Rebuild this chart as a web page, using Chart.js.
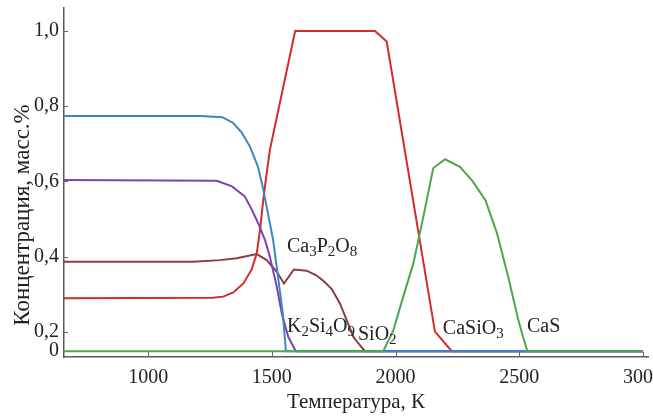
<!DOCTYPE html>
<html>
<head>
  <meta charset="utf-8">
  <title>Концентрация фаз</title>
  <script src="https://cdn.jsdelivr.net/npm/chart.js"></script>
  <style>
    body { margin: 0; background: #fff; }
    #wrap { width: 653px; height: 417px; }
  </style>
</head>
<body>
  <div id="wrap"><canvas id="phaseChart"></canvas></div>

  <script>
    // температура, K и концентрация, масс.% по каждой кривой
    const sio2T = [660, 1210, 1300, 1343, 1379, 1412, 1444, 1464, 1484, 1505, 1525, 1544, 1557, 3000];
    const sio2C = [0.774, 0.774, 0.771, 0.756, 0.729, 0.692, 0.639, 0.583, 0.516, 0.445, 0.346, 0.251, 0, 0];

    const k2si4o9T = [660, 1277, 1339, 1391, 1420, 1448, 1472, 1492, 1520, 1540, 1566, 1594, 1602, 3000];
    const k2si4o9C = [0.604, 0.602, 0.587, 0.560, 0.524, 0.484, 0.445, 0.400, 0.320, 0.250, 0.151, 0.013, 0, 0];

    const casio3T = [660, 1262, 1303, 1344, 1385, 1419, 1439, 1452, 1464, 1478, 1492, 1594, 1917, 1964, 2159, 2227, 3000];
    const casio3C = [0.290, 0.291, 0.294, 0.305, 0.329, 0.367, 0.409, 0.471, 0.543, 0.617, 0.684, 1.0, 1.0, 0.972, 0.201, 0, 0];

    const ca3p2o8T = [660, 1181, 1290, 1358, 1439, 1479, 1520, 1549, 1589, 1641, 1681, 1711, 1742, 1775, 1802, 1829, 1849, 1876, 3000];
    const ca3p2o8C = [0.387, 0.387, 0.391, 0.396, 0.407, 0.391, 0.360, 0.329, 0.366, 0.363, 0.350, 0.334, 0.314, 0.276, 0.232, 0.151, 0.083, 0, 0];

    const casT = [660, 1950, 1991, 2031, 2072, 2112, 2152, 2200, 2260, 2311, 2363, 2410, 2455, 2496, 2515, 2533, 3000];
    const casC = [0, 0, 0.205, 0.294, 0.383, 0.506, 0.635, 0.659, 0.639, 0.601, 0.550, 0.462, 0.347, 0.232, 0.148, 0, 0];

    const xTicks = [1000, 1500, 2000, 2500, 3000];
    const yTicks = [0, 0.2, 0.4, 0.6, 0.8, 1.0];

    // подписи кривых (цифры рисуются индексами)
    const curveLabels = [
      { text: 'Ca3P2O8', x: 1561, y: 0.431 },
      { text: 'K2Si4O9', x: 1561, y: 0.219 },
      { text: 'SiO2', x: 1848, y: 0.19 },
      { text: 'CaSiO3', x: 2191, y: 0.213 },
      { text: 'CaS', x: 2531, y: 0.219 }
    ];

    const serif = "'Liberation Serif', 'Times New Roman', serif";

    // ось Y с разрывом: участок 0..0,2 сжат внизу
    const BREAK_VAL = 0.2;
    const BREAK_FRAC = 25 / 349;
    class BrokenScale extends Chart.LinearScale {
      toDec(v) {
        if (v < BREAK_VAL) return (v - this.min) / (BREAK_VAL - this.min) * BREAK_FRAC;
        return BREAK_FRAC + (v - BREAK_VAL) / (this.max - BREAK_VAL) * (1 - BREAK_FRAC);
      }
      getPixelForValue(v) {
        if (v === null || v === undefined || isNaN(v)) return NaN;
        return this.getPixelForDecimal(this.toDec(v));
      }
      getValueForPixel(p) {
        const d = this.getDecimalForPixel(p);
        if (d < BREAK_FRAC) return this.min + d / BREAK_FRAC * (BREAK_VAL - this.min);
        return BREAK_VAL + (d - BREAK_FRAC) / (1 - BREAK_FRAC) * (this.max - BREAK_VAL);
      }
    }
    BrokenScale.id = 'broken';
    BrokenScale.defaults = Chart.LinearScale.defaults;
    Chart.register(BrokenScale);

    const toPoints = (xs, ys) => xs.map((x, i) => ({ x: x, y: ys[i] }));
    const line = (label, xs, ys, color) => ({
      label: label,
      data: toPoints(xs, ys),
      borderColor: color,
      borderWidth: 2,
      pointRadius: 0,
      showLine: true,
      tension: 0
    });

    // без запаса под крайние подписи — область графика задаётся вручную
    const noPad = s => { s.paddingLeft = s.paddingRight = s.paddingTop = s.paddingBottom = 0; };

    function drawFormula(ctx, text, x, y) {
      const base = y + 7;
      for (const ch of text) {
        const sub = /[0-9]/.test(ch);
        ctx.font = (sub ? '15px ' : '20px ') + serif;
        ctx.fillText(ch, x, sub ? base + 4 : base);
        x += ctx.measureText(ch).width;
      }
    }

    const decor = {
      id: 'decor',
      afterDraw(chart) {
        const ctx = chart.ctx;
        const xs = chart.scales.x, ys = chart.scales.y;
        const area = chart.chartArea;
        ctx.save();
        ctx.strokeStyle = '#666';
        ctx.lineWidth = 1;
        yTicks.slice(1).forEach(v => {
          const py = Math.round(ys.getPixelForValue(v)) + 0.5;
          ctx.beginPath(); ctx.moveTo(area.left, py); ctx.lineTo(area.left + 4, py); ctx.stroke();
        });
        xTicks.forEach(v => {
          const px = Math.round(xs.getPixelForValue(v)) + 0.5;
          ctx.beginPath(); ctx.moveTo(px, area.bottom); ctx.lineTo(px, area.bottom - 5); ctx.stroke();
        });

        ctx.fillStyle = '#222';
        ctx.textAlign = 'left';
        ctx.textBaseline = 'alphabetic';
        curveLabels.forEach(l => drawFormula(ctx, l.text, xs.getPixelForValue(l.x), ys.getPixelForValue(l.y)));

        ctx.translate(23, 215);
        ctx.rotate(-Math.PI / 2);
        ctx.textAlign = 'center';
        ctx.textBaseline = 'middle';
        ctx.font = '23px ' + serif;
        ctx.fillText('Концентрация, масс.%', 0, 0);
        ctx.restore();
      }
    };

    new Chart(document.getElementById('phaseChart'), {
      type: 'scatter',
      data: {
        datasets: [
          line('CaS', casT, casC, '#4ea64e'),
          line('SiO2', sio2T, sio2C, '#3b87c6'),
          line('K2Si4O9', k2si4o9T, k2si4o9C, '#7f3fb0'),
          line('CaSiO3', casio3T, casio3C, '#d42b2b'),
          line('Ca3P2O8', ca3p2o8T, ca3p2o8C, '#8b3e40')
        ]
      },
      options: {
        responsive: true,
        maintainAspectRatio: false,
        animation: false,
        layout: { padding: { top: 8, right: 5, left: 0, bottom: 0 }, autoPadding: false },
        plugins: { legend: { display: false }, tooltip: { enabled: false } },
        scales: {
          x: {
            type: 'linear',
            min: 660,
            max: 3020,
            afterBuildTicks: s => { s.ticks = xTicks.map(v => ({ value: v })); },
            afterFit: s => { s.height = 60; noPad(s); },
            grid: { display: false, drawTicks: false },
            border: { display: true, color: '#5a5a5a', width: 1.5 },
            ticks: {
              padding: 9,
              color: '#222',
              font: { family: serif, size: 20 },
              maxRotation: 0,
              callback: v => String(v)
            },
            title: { display: true, text: 'Температура, К', color: '#222', font: { family: serif, size: 21 }, padding: { top: 0, bottom: 2 } }
          },
          y: {
            type: 'broken',
            min: -0.06,
            max: 1.061,
            afterBuildTicks: s => { s.ticks = yTicks.map(v => ({ value: v })); },
            afterFit: s => { s.width = 64; noPad(s); },
            grid: { display: false, drawTicks: false },
            border: { display: true, color: '#5a5a5a', width: 1.5 },
            ticks: {
              padding: 5,
              color: '#222',
              font: { family: serif, size: 20 },
              callback: v => v === 0 ? '0' : v.toFixed(1).replace('.', ',')
            }
          }
        }
      },
      plugins: [decor]
    });
  </script>
</body>
</html>
